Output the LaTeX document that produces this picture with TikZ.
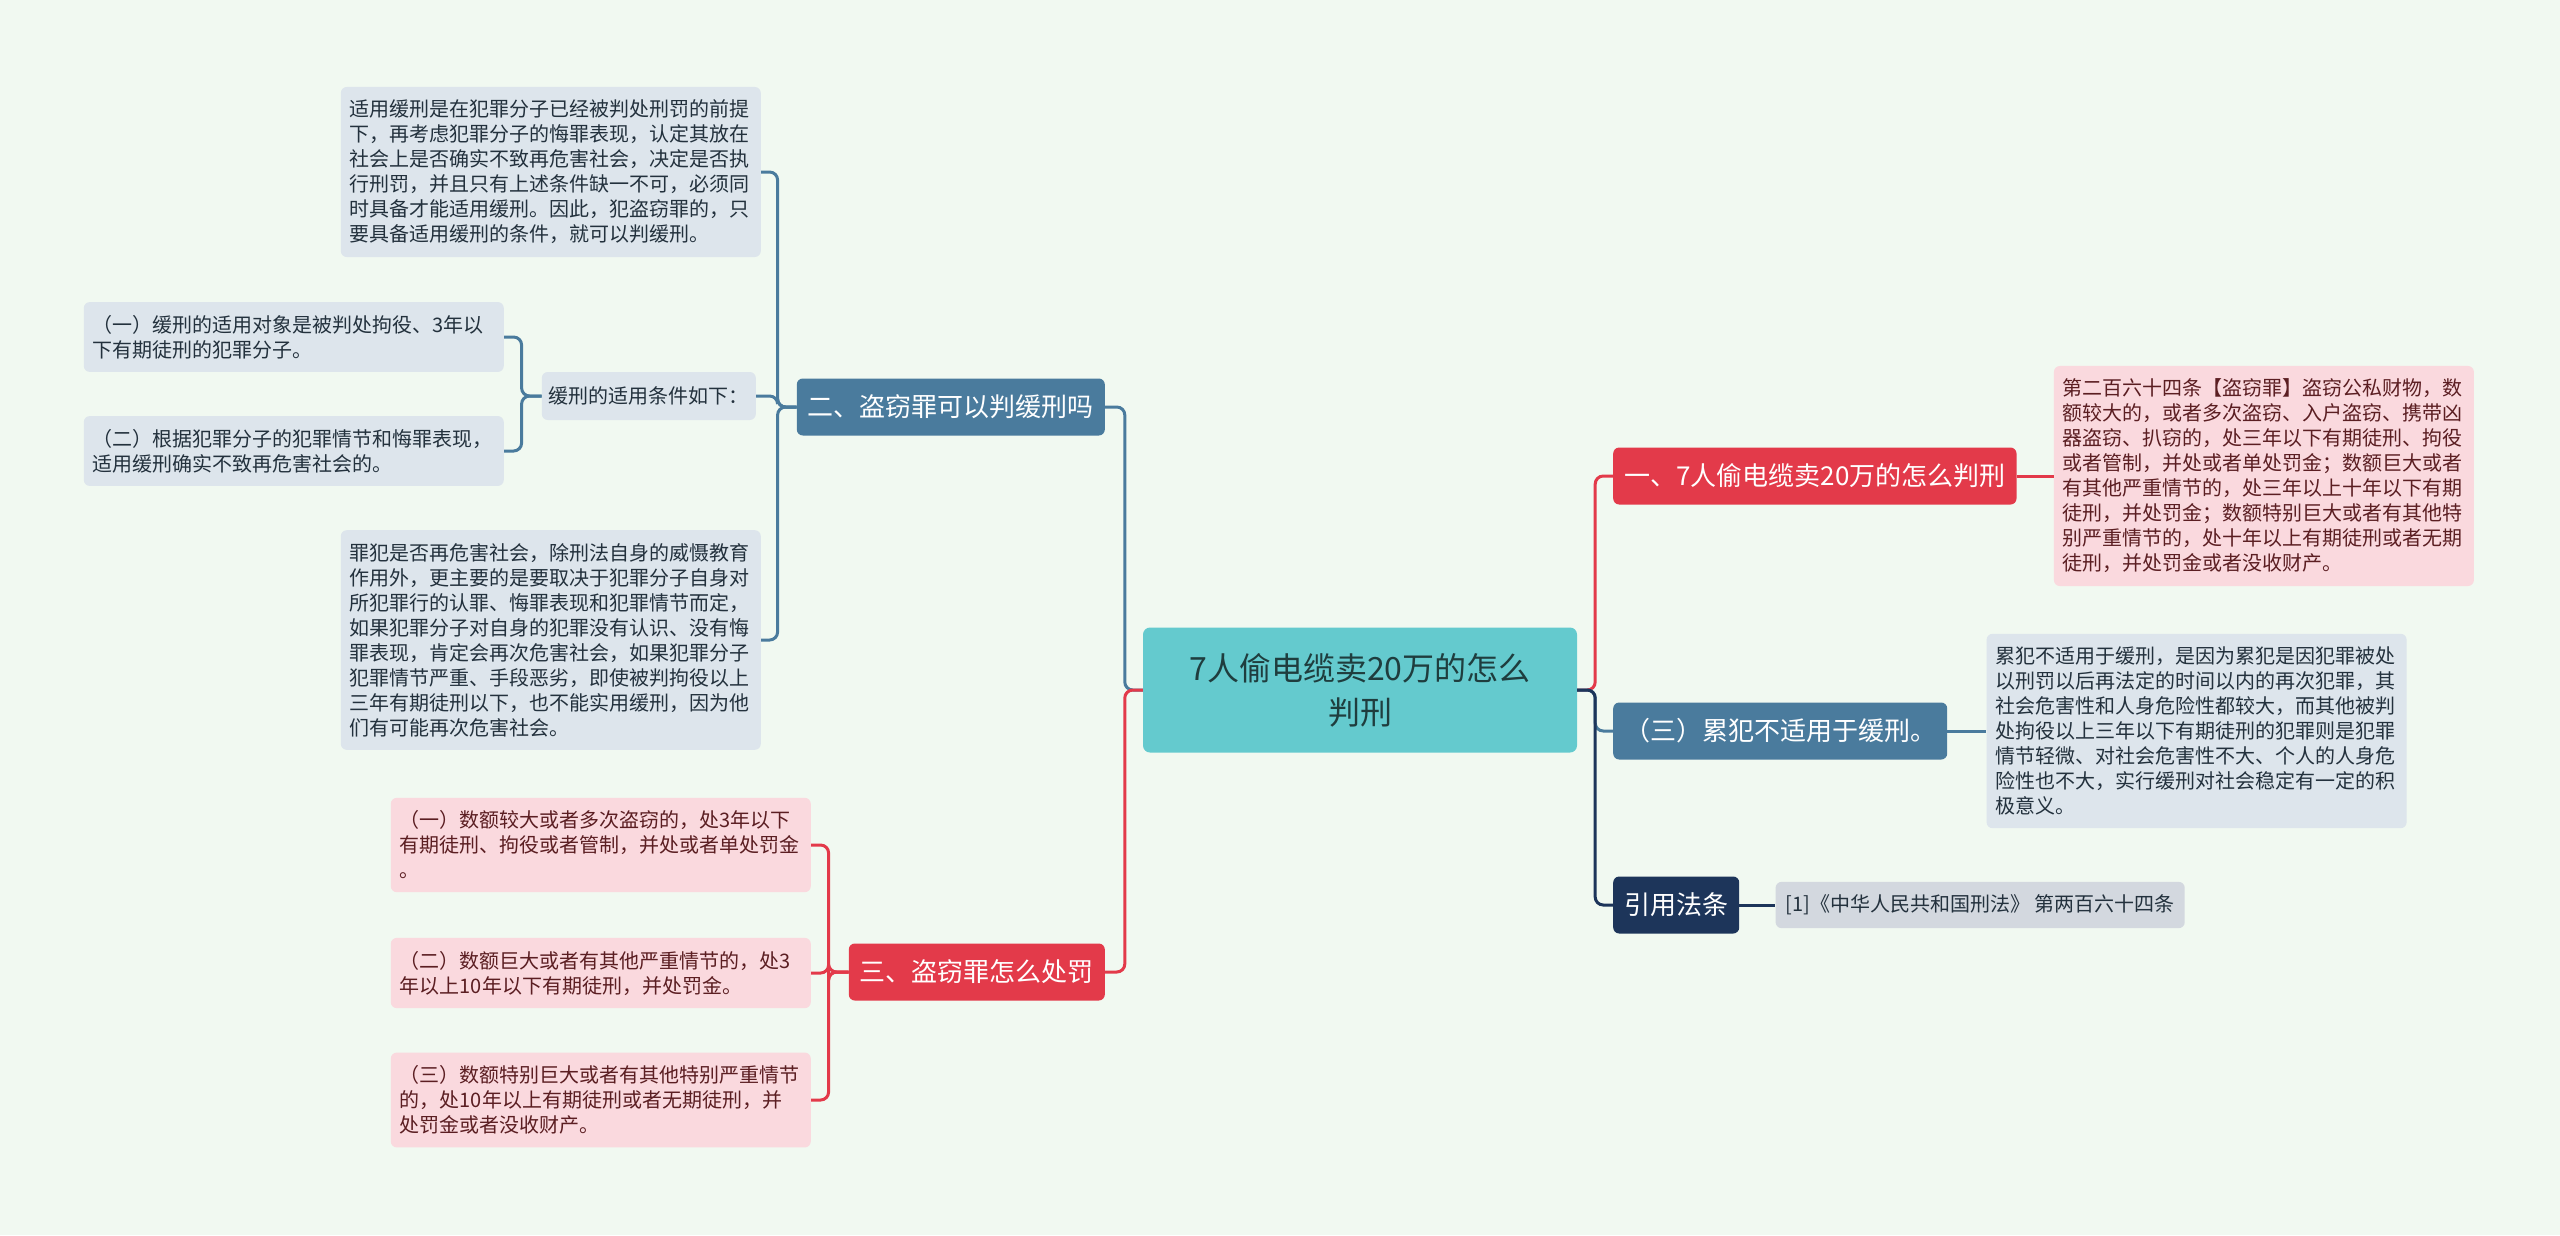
\documentclass[tikz,border=0pt]{standalone}
\usepackage{fontspec}
\setmainfont{Noto Sans CJK SC}
\usepackage{xcolor}
\usetikzlibrary{positioning, calc}
\definecolor{pagebg}{HTML}{F1F9F1}
\definecolor{rootteal}{HTML}{64CACE}
\definecolor{roottext}{HTML}{1F3D3E}
\definecolor{topicred}{HTML}{E33A4A}
\definecolor{topicblue}{HTML}{4A7B9D}
\definecolor{topicnavy}{HTML}{1D355A}
\definecolor{leafpink}{HTML}{FAD9DE}
\definecolor{leafpinktext}{HTML}{5B1E22}
\definecolor{leafblue}{HTML}{DDE5EC}
\definecolor{leafbluetext}{HTML}{23313D}
\definecolor{leafgrey}{HTML}{D3D8DF}
\tikzstyle{rootbox} = [rectangle, rounded corners=7pt, fill=rootteal, text=roottext, minimum width=434pt, minimum height=125pt, text width=400pt, align=center, font=\fontsize{32}{44}\selectfont]
\tikzstyle{topic} = [rectangle, rounded corners=6pt, text=white, minimum height=57pt, inner xsep=11pt, font=\fontsize{26}{30}\selectfont]
\tikzstyle{leafbase} = [rectangle, rounded corners=6pt, inner xsep=9pt, inner ysep=13pt, font=\fontsize{20}{25}\selectfont]
\tikzstyle{pinkleaf} = [leafbase, text width=402pt, align=left, fill=leafpink, text=leafpinktext]
\tikzstyle{blueleaf} = [leafbase, text width=402pt, align=left, fill=leafblue, text=leafbluetext]
\tikzstyle{smallleaf} = [leafbase, fill=leafblue, text=leafbluetext, minimum height=48pt, inner xsep=7pt]
\tikzstyle{citeleaf} = [leafbase, fill=leafgrey, text=leafbluetext, minimum height=45pt, inner xsep=10pt]
\tikzstyle{link} = [line width=3pt, rounded corners=8pt]

\begin{document}
\begin{tikzpicture}[x=1pt, y=-1pt, node distance=37pt]
    \fill[pagebg] (0,0) rectangle (2560,1235);
    \useasboundingbox (0,0) rectangle (2560,1235);

    % centre
    \node[rootbox] (root) at (1360,690) {7人偷电缆卖20万的怎么\\判刑};

    % right side
    \node[topic, fill=topicred, anchor=west] (one) at (1613,476) {一、7人偷电缆卖20万的怎么判刑};
    \node[pinkleaf, right=of one] (oneleaf) {第二百六十四条【盗窃罪】盗窃公私财物，数\\额较大的，或者多次盗窃、入户盗窃、携带凶\\器盗窃、扒窃的，处三年以下有期徒刑、拘役\\或者管制，并处或者单处罚金；数额巨大或者\\有其他严重情节的，处三年以上十年以下有期\\徒刑，并处罚金；数额特别巨大或者有其他特\\别严重情节的，处十年以上有期徒刑或者无期\\徒刑，并处罚金或者没收财产。};
    \node[topic, fill=topicblue, anchor=west] (recid) at (1613,731) {（三）累犯不适用于缓刑。};
    \node[blueleaf, right=39pt of recid] (recidleaf) {累犯不适用于缓刑，是因为累犯是因犯罪被处\\以刑罚以后再法定的时间以内的再次犯罪，其\\社会危害性和人身危险性都较大，而其他被判\\处拘役以上三年以下有期徒刑的犯罪则是犯罪\\情节轻微、对社会危害性不大、个人的人身危\\险性也不大，实行缓刑对社会稳定有一定的积\\极意义。};
    \node[topic, fill=topicnavy, anchor=west] (cite) at (1613,905) {引用法条};
    \node[citeleaf, right=36pt of cite] (citeleaf) {[1]《中华人民共和国刑法》 第两百六十四条};

    % left side
    \node[topic, fill=topicblue, anchor=east] (two) at (1105,407) {二、盗窃罪可以判缓刑吗};
    \node[blueleaf, anchor=east] (twoa) at (761,172) {适用缓刑是在犯罪分子已经被判处刑罚的前提\\下，再考虑犯罪分子的悔罪表现，认定其放在\\社会上是否确实不致再危害社会，决定是否执\\行刑罚，并且只有上述条件缺一不可，必须同\\时具备才能适用缓刑。因此，犯盗窃罪的，只\\要具备适用缓刑的条件，就可以判缓刑。};
    \node[smallleaf, anchor=east] (cond) at (756,396) {缓刑的适用条件如下：};
    \node[blueleaf, anchor=east] (conda) at (504,337) {（一）缓刑的适用对象是被判处拘役、3年以\\下有期徒刑的犯罪分子。};
    \node[blueleaf, anchor=east] (condb) at (504,451) {（二）根据犯罪分子的犯罪情节和悔罪表现，\\适用缓刑确实不致再危害社会的。};
    \node[blueleaf, anchor=east] (twob) at (761,640) {罪犯是否再危害社会，除刑法自身的威慑教育\\作用外，更主要的是要取决于犯罪分子自身对\\所犯罪行的认罪、悔罪表现和犯罪情节而定，\\如果犯罪分子对自身的犯罪没有认识、没有悔\\罪表现，肯定会再次危害社会，如果犯罪分子\\犯罪情节严重、手段恶劣，即使被判拘役以上\\三年有期徒刑以下，也不能实用缓刑，因为他\\们有可能再次危害社会。};

    \node[topic, fill=topicred, anchor=east] (three) at (1105,972) {三、盗窃罪怎么处罚};
    \node[pinkleaf, anchor=east] (threea) at (811,845) {（一）数额较大或者多次盗窃的，处3年以下\\有期徒刑、拘役或者管制，并处或者单处罚金\\。};
    \node[pinkleaf, anchor=east] (threeb) at (811,973) {（二）数额巨大或者有其他严重情节的，处3\\年以上10年以下有期徒刑，并处罚金。};
    \node[pinkleaf, anchor=east] (threec) at (811,1100) {（三）数额特别巨大或者有其他特别严重情节\\的，处10年以上有期徒刑或者无期徒刑，并\\处罚金或者没收财产。};

    % junctions
    \coordinate (rj) at ($(root.east)+(18,0)$);
    \coordinate (lj) at ($(root.west)+(-18,0)$);
    \coordinate (twoj) at ($(two.west)+(-19,0)$);
    \coordinate (condj) at ($(cond.west)+(-20,0)$);
    \coordinate (threej) at ($(three.west)+(-20,0)$);

    % connectors
    \draw[link, topicred] (root.east) -- (rj) |- (one.west);
    \draw[link, topicblue] (root.east) -- (rj) |- (recid.west);
    \draw[link, topicnavy] (root.east) -- (rj) |- (cite.west);
    \draw[link, topicred] (one) -- (oneleaf);
    \draw[link, topicblue] (recid) -- (recidleaf);
    \draw[link, topicnavy] (cite) -- (citeleaf);

    \draw[link, topicblue] (root.west) -- (lj) |- (two.east);
    \draw[link, topicred] (root.west) -- (lj) |- (three.east);
    \draw[link, topicblue] (two.west) -- (twoj) |- (twoa.east);
    \draw[link, topicblue] (two.west) -- (twoj) |- (cond.east);
    \draw[link, topicblue] (two.west) -- (twoj) |- (twob.east);
    \draw[link, topicblue] (cond.west) -- (condj) |- (conda.east);
    \draw[link, topicblue] (cond.west) -- (condj) |- (condb.east);
    \draw[link, topicred] (three.west) -- (threej) |- (threea.east);
    \draw[link, topicred] (three.west) -- (threej) |- (threeb.east);
    \draw[link, topicred] (three.west) -- (threej) |- (threec.east);
\end{tikzpicture}
\end{document}
